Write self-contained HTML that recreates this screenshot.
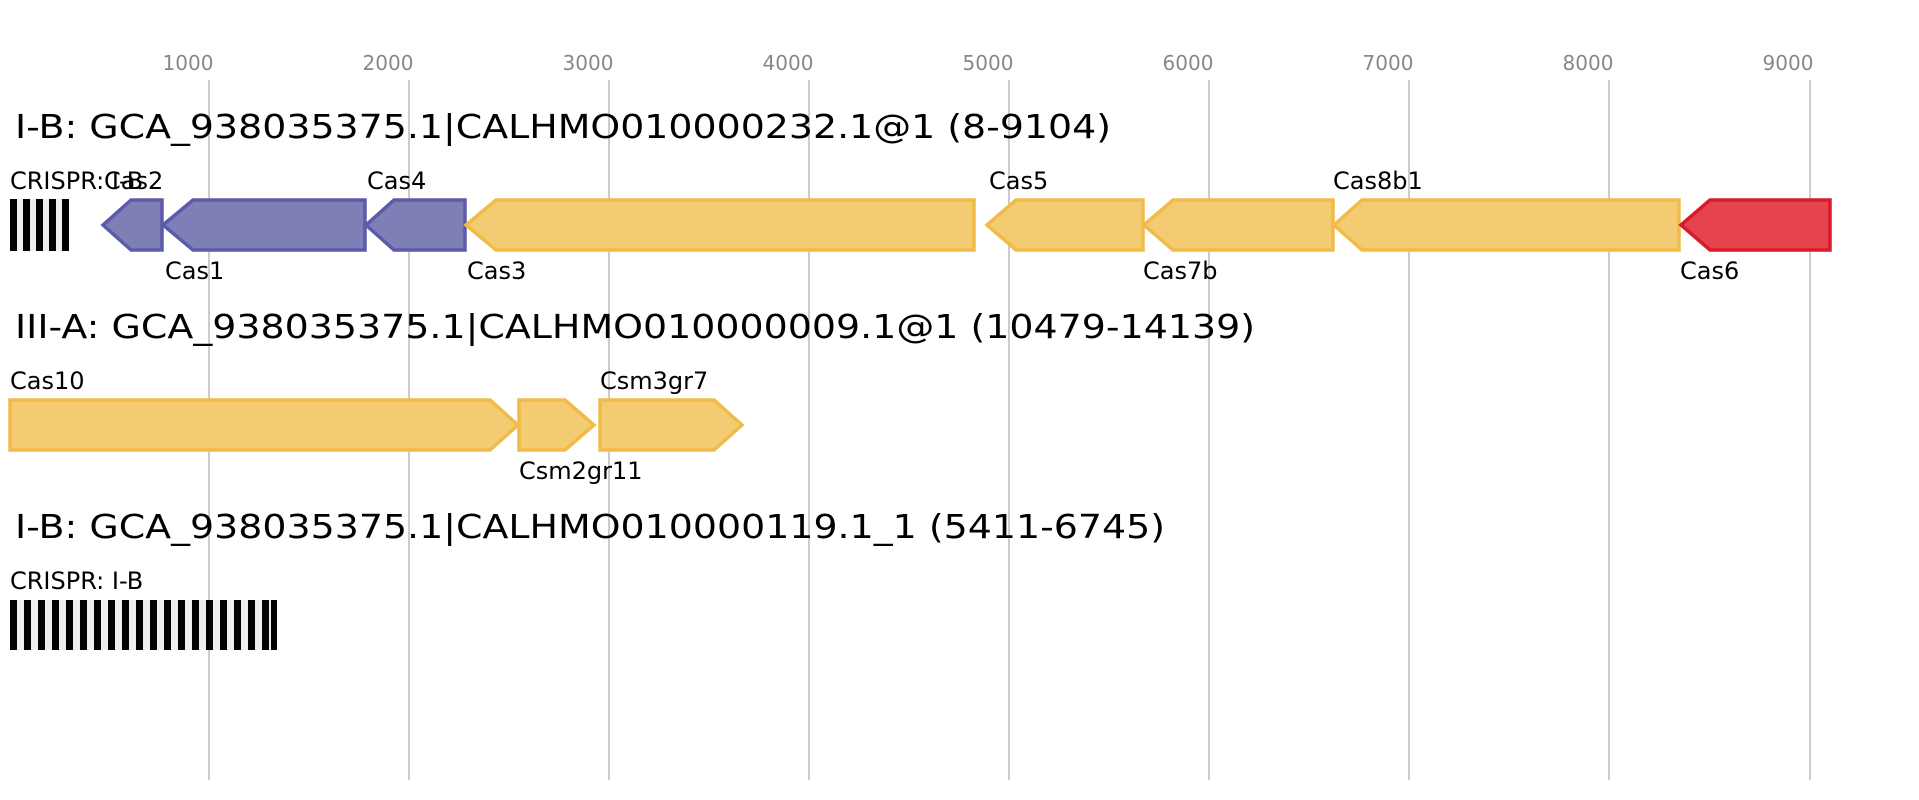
<!DOCTYPE html>
<html><head><meta charset="utf-8"><style>body{margin:0;background:#fff}svg{display:block}text{font-family:"DejaVu Sans","Liberation Sans",sans-serif}</style></head><body>
<svg width="1919" height="800" xmlns="http://www.w3.org/2000/svg">
<g stroke="#bbb" stroke-width="1.5">
<line x1="209" y1="80" x2="209" y2="780"/><line x1="409" y1="80" x2="409" y2="780"/><line x1="609" y1="80" x2="609" y2="780"/><line x1="809" y1="80" x2="809" y2="780"/><line x1="1009" y1="80" x2="1009" y2="780"/><line x1="1209" y1="80" x2="1209" y2="780"/><line x1="1409" y1="80" x2="1409" y2="780"/><line x1="1609" y1="80" x2="1609" y2="780"/><line x1="1810" y1="80" x2="1810" y2="780"/>
</g>
<g fill="#888" font-size="20" text-anchor="middle">
<text x="188" y="70">1000</text><text x="388" y="70">2000</text><text x="588" y="70">3000</text><text x="788" y="70">4000</text><text x="988" y="70">5000</text><text x="1188" y="70">6000</text><text x="1388" y="70">7000</text><text x="1588" y="70">8000</text><text x="1788" y="70">9000</text>
</g>
<g font-size="33" fill="#000">
<text x="15" y="138" textLength="1096" lengthAdjust="spacingAndGlyphs">I-B: GCA_938035375.1|CALHMO010000232.1@1 (8-9104)</text>
<text x="15" y="338" textLength="1240" lengthAdjust="spacingAndGlyphs">III-A: GCA_938035375.1|CALHMO010000009.1@1 (10479-14139)</text>
<text x="15" y="538" textLength="1150" lengthAdjust="spacingAndGlyphs">I-B: GCA_938035375.1|CALHMO010000119.1_1 (5411-6745)</text>
</g>
<rect x="10" y="199" width="58" height="52" fill="#eee"/>
<g fill="#000">
<rect x="10" y="199" width="7" height="52"/><rect x="23" y="199" width="7" height="52"/><rect x="36" y="199" width="7" height="52"/><rect x="49" y="199" width="7" height="52"/><rect x="62" y="199" width="7" height="52"/>
</g>
<rect x="10" y="600" width="267" height="50" fill="#eee"/>
<g fill="#000">
<rect x="10" y="600" width="7" height="50"/><rect x="24" y="600" width="7" height="50"/><rect x="38" y="600" width="7" height="50"/><rect x="52" y="600" width="7" height="50"/><rect x="66" y="600" width="7" height="50"/><rect x="80" y="600" width="7" height="50"/><rect x="94" y="600" width="7" height="50"/><rect x="108" y="600" width="7" height="50"/><rect x="122" y="600" width="7" height="50"/><rect x="136" y="600" width="7" height="50"/><rect x="150" y="600" width="7" height="50"/><rect x="164" y="600" width="7" height="50"/><rect x="178" y="600" width="7" height="50"/><rect x="192" y="600" width="7" height="50"/><rect x="206" y="600" width="7" height="50"/><rect x="220" y="600" width="7" height="50"/><rect x="234" y="600" width="7" height="50"/><rect x="248" y="600" width="7" height="50"/><rect x="262" y="600" width="7" height="50"/><rect x="271" y="600" width="6" height="50"/>
</g>
<g stroke-width="3.5">
<polygon points="103,225 131,200 162,200 162,250 131,250" fill="#7f7fb8" stroke="#5b5ba8"/>
<polygon points="163,225 193,200 365,200 365,250 193,250" fill="#7f7fb8" stroke="#5b5ba8"/>
<polygon points="366,225 394,200 465,200 465,250 394,250" fill="#7f7fb8" stroke="#5b5ba8"/>
<polygon points="466,225 496,200 974,200 974,250 496,250" fill="#f2cb73" stroke="#f0bb48"/>
<polygon points="987,225 1016,200 1143,200 1143,250 1016,250" fill="#f2cb73" stroke="#f0bb48"/>
<polygon points="1144,225 1173,200 1333,200 1333,250 1173,250" fill="#f2cb73" stroke="#f0bb48"/>
<polygon points="1334,225 1362,200 1679,200 1679,250 1362,250" fill="#f2cb73" stroke="#f0bb48"/>
<polygon points="1681,225 1710,200 1830,200 1830,250 1710,250" fill="#e5444f" stroke="#d81b2a"/>
<polygon points="10,400 490,400 518,425 490,450 10,450" fill="#f2cb73" stroke="#f0bb48"/>
<polygon points="519,400 565,400 594,425 565,450 519,450" fill="#f2cb73" stroke="#f0bb48"/>
<polygon points="600,400 714,400 742,425 714,450 600,450" fill="#f2cb73" stroke="#f0bb48"/>
</g>
<g font-size="24" fill="#000">
<text x="10" y="189">CRISPR: I-B</text><text x="104" y="189">Cas2</text>
<text x="165" y="279">Cas1</text><text x="367" y="189">Cas4</text>
<text x="467" y="279">Cas3</text><text x="989" y="189">Cas5</text>
<text x="1143" y="279">Cas7b</text><text x="1333" y="189">Cas8b1</text>
<text x="1680" y="279">Cas6</text>
<text x="10" y="389">Cas10</text><text x="519" y="479">Csm2gr11</text><text x="600" y="389">Csm3gr7</text>
<text x="10" y="589">CRISPR: I-B</text>
</g>
</svg>
</body></html>
